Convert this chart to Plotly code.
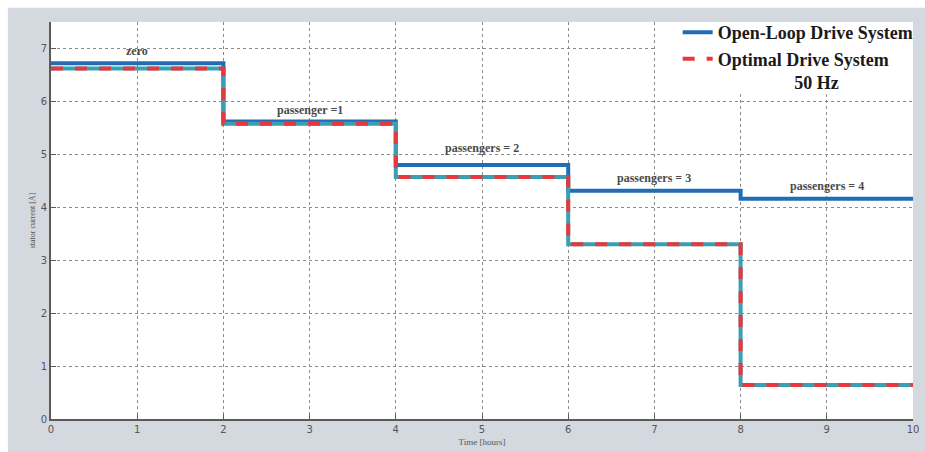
import plotly.graph_objects as go

# Step boundaries (hours) and stator current per load step
time_edges = [0, 2, 4, 6, 8, 10]
open_loop_current = [6.72, 5.62, 4.80, 4.31, 4.16]
optimal_current = [6.62, 5.58, 4.57, 3.30, 0.64]

load_labels = ["zero", "passenger =1", "passengers = 2", "passengers = 3", "passengers = 4"]
label_x = [1, 3, 5, 7, 9]
label_y = [6.96, 5.83, 5.12, 4.55, 4.41]

x_ticks = list(range(0, 11))
y_ticks = list(range(0, 8))


def step_values(vals):
    return vals + [vals[-1]]


fig = go.Figure()

fig.add_trace(go.Scatter(
    x=time_edges, y=step_values(open_loop_current), mode="lines",
    line=dict(shape="hv", color="#1f6db5", width=4),
    name="Open-Loop Drive System",
))
# teal base under the red dashes
fig.add_trace(go.Scatter(
    x=time_edges, y=step_values(optimal_current), mode="lines",
    line=dict(shape="hv", color="#3a9fb4", width=4),
    showlegend=False, hoverinfo="skip",
))
fig.add_trace(go.Scatter(
    x=time_edges, y=step_values(optimal_current), mode="lines",
    line=dict(shape="hv", color="#e8383d", width=4, dash="dash"),
    name="Optimal Drive System<br>" + "\u00a0" * 17 + "50 Hz",
))

for txt, xv, yv in zip(load_labels, label_x, label_y):
    fig.add_annotation(
        x=xv, y=yv, text=f"<b>{txt}</b>", showarrow=False,
        font=dict(family="Liberation Serif", size=12, color="#4a4a4a"),
    )

# light grey backdrop, white strip along top and left edges
fig.add_shape(
    type="rect", xref="paper", yref="paper",
    x0=-0.05, x1=1.02, y0=-0.09, y1=1.036,
    fillcolor="#d4d8df", line=dict(width=0), layer="below",
)
# white plotting area
fig.add_shape(
    type="rect", xref="paper", yref="paper",
    x0=0, x1=1, y0=0, y1=1,
    fillcolor="white", line=dict(width=0), layer="below",
)
# white panel behind the legend, hiding the grid there
fig.add_shape(
    type="rect", xref="paper", yref="paper",
    x0=0.703, x1=1, y0=0.818, y1=1,
    fillcolor="white", line=dict(width=0), layer="above",
)

axis_common = dict(
    showgrid=True, gridcolor="#8a8a8a", griddash="dot", gridwidth=1,
    showline=True, linecolor="#5a5a5a", linewidth=2,
    ticks="inside", ticklen=5, tickcolor="#5a5a5a", tickwidth=1,
    tickfont=dict(family="DejaVu Sans", size=10, color="#555555"),
    ticklabeloverflow="allow", automargin=False,
    zeroline=False,
)

fig.update_xaxes(
    range=[0, 10], tickvals=x_ticks, **axis_common,
    title=dict(text="Time [hours]", font=dict(family="Liberation Serif", size=9, color="#555555"), standoff=5),
)
fig.update_yaxes(
    range=[0, 7.5], tickvals=y_ticks, **axis_common,
    title=dict(text="stator current [A]", font=dict(family="Liberation Serif", size=8, color="#555555"), standoff=4),
)

fig.update_layout(
    width=925, height=452,
    margin=dict(l=51, r=7, t=22, b=33),
    paper_bgcolor="white", plot_bgcolor="rgba(0,0,0,0)",
    legend=dict(
        x=0.727, y=1.02, xanchor="left", yanchor="top",
        bgcolor="rgba(0,0,0,0)", borderwidth=0, valign="top",
        font=dict(family="Liberation Serif", size=18, color="#1a1a1a"),
        itemwidth=30, tracegroupgap=0,
    ),
    showlegend=True,
)
fig.update_layout(legend_font_weight="bold")

fig.write_html("out.html")
